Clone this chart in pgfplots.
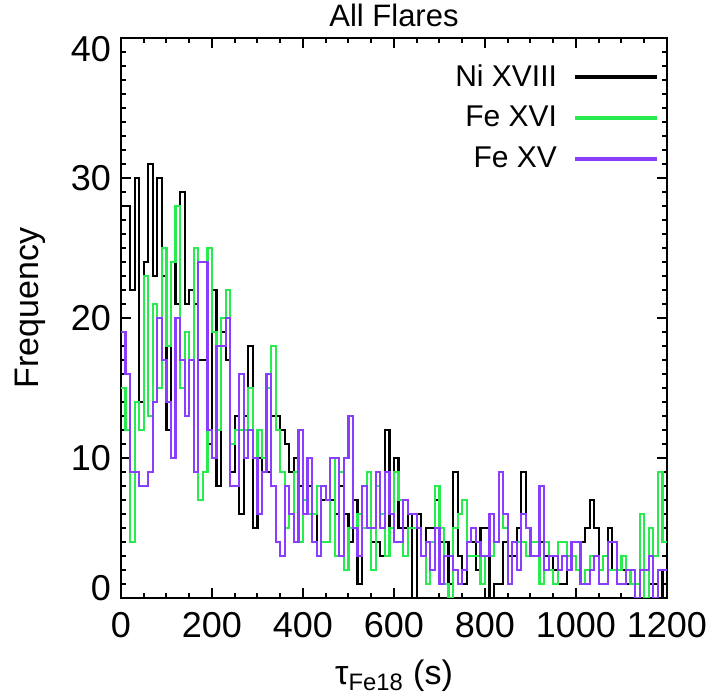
\documentclass[border=0pt]{standalone}
\usepackage{fontspec}
\setmainfont{Liberation Sans}
\usepackage{pgfplots}
\usepackage{pgfplotstable}
\pgfplotsset{compat=1.18}

\definecolor{flgreen}{RGB}{40,235,80}
\definecolor{flpurple}{RGB}{138,60,255}

% left bin edges (s), counts per 10 s bin
\pgfplotstableread{
t ni fe16 fe15
0 28 15 19
10 28 12 16
20 22 4 9
30 30 14 9
40 14 12 8
50 24 23 8
60 31 13 9
70 23 21 14
80 30 15 20
90 23 25 17
100 12 18 14
110 24 24 10
120 21 28 20
130 29 15 17
140 21 19 13
150 22 17 17
160 21 25 9
170 17 7 24
180 17 9 24
190 11 25 12
200 22 19 10
210 8 12 18
220 19 20 18
230 17 22 20
240 9 11 8
250 13 12 8
260 6 12 16
270 13 12 10
280 18 15 12
290 5 10 10
300 10 12 6
310 9 10 9
320 9 15 16
330 13 18 8
340 13 12 4
350 12 9 3
360 11 5 8
370 9 6 6
380 10 9 4
390 8 4 12
400 7 7 6
410 8 6 10
420 6 6 4
430 3 8 3
440 7 4 8
450 7 4 7
460 7 10 10
470 6 3 10
480 8 9 3
490 6 2 10
500 4 5 13
510 7 5 5
520 1 6 3
530 5 5 8
540 5 9 5
550 4 2 5
560 4 8 9
570 3 6 5
580 12 3 9
590 5 5 6
600 10 9 4
610 5 7 4
620 5 3 7
630 6 5 6
640 0 5 6
650 6 5 5
660 3 3 3
670 5 1 4
680 5 4 2
690 7 8 5
700 4 5 1
710 4 1 3
720 1 0 3
730 9 5 2
740 3 6 1
750 1 7 2
760 4 3 4
770 4 3 5
780 2 3 4
790 5 1 3
800 5 3 3
810 0 3 6
820 1 4 4
830 1 9 9
840 4 5 6
850 3 1 1
860 3 4 4
870 5 4 2
880 9 4 6
890 5 3 5
900 3 4 3
910 3 4 3
920 4 1 8
930 3 4 2
940 3 2 3
950 2 1 3
960 1 4 2
970 1 4 3
980 3 3 2
990 3 3 4
1000 2 2 4
1010 4 1 1
1020 5 2 1
1030 7 3 2
1040 5 3 3
1050 1 2 1
1060 1 3 1
1070 5 2 4
1080 2 2 4
1090 2 2 1
1100 2 3 1
1110 1 2 2
1120 1 1 2
1130 1 1 0
1140 0 6 2
1150 2 0 2
1160 1 5 3
1170 1 3 0
1180 0 9 2
1190 2 4 2
1200 2 4 2
}\histdata

\begin{document}
\begin{tikzpicture}
% page = 709 x 696 px at 0.5 pt per px; axis box corner sits at (0,0)
\useasboundingbox (-60.5pt,-49pt) rectangle (294pt,299pt);
\begin{axis}[
  at={(0,0)}, anchor=south west,
  scale only axis,
  width=273pt, height=280pt,
  xmin=0, xmax=1200, ymin=0, ymax=40,
  xtick={0,200,...,1200}, minor x tick num=3,
  ytick={0,10,...,40}, minor y tick num=9,
  yticklabels={\raisebox{5pt}[\height][\depth]{0},10,20,30,\raisebox{-5.5pt}[\height][\depth]{40}},
  tick align=inside,
  major tick length=5pt, minor tick length=2.6pt,
  axis line style={line width=1.2pt},
  every tick/.style={black, line width=1pt},
  /pgf/number format/assume math mode=true,
  /pgf/number format/set thousands separator={},
  ticklabel style={font=\fontsize{18}{20}\selectfont},
  xticklabel style={yshift=-3.5pt},
  yticklabel style={xshift=-1.5pt},
  title={All Flares},
  title style={font=\fontsize{15.5}{18}\selectfont, yshift=-4pt},
  xlabel={τ\textsubscript{Fe18} (s)},
  ylabel={Frequency},
  label style={font=\fontsize{17}{19}\selectfont},
  xlabel style={yshift=-4.5pt},
  ylabel style={yshift=6pt, xshift=5pt},
  legend plot pos=right,
  legend cell align=right,
  legend style={draw=none, fill=none, at={(rel axis cs:0.997,0.968)}, anchor=north east,
    font=\fontsize{15}{17}\selectfont, row sep=4.5pt,
    nodes={inner sep=2pt}},
  legend image code/.code={\draw[#1, line width=2pt] (0pt,0pt) -- (41pt,0pt);},
]
\addplot[const plot, black, line width=1.1pt] table[x=t, y=ni] {\histdata};
\addlegendentry{Ni XVIII\kern6pt}
\addplot[const plot, flgreen, line width=1.1pt] table[x=t, y=fe16] {\histdata};
\addlegendentry{Fe XVI\kern6pt}
\addplot[const plot, flpurple, line width=1.1pt] table[x=t, y=fe15] {\histdata};
\addlegendentry{Fe XV\kern6pt}
\end{axis}
\end{tikzpicture}
\end{document}
